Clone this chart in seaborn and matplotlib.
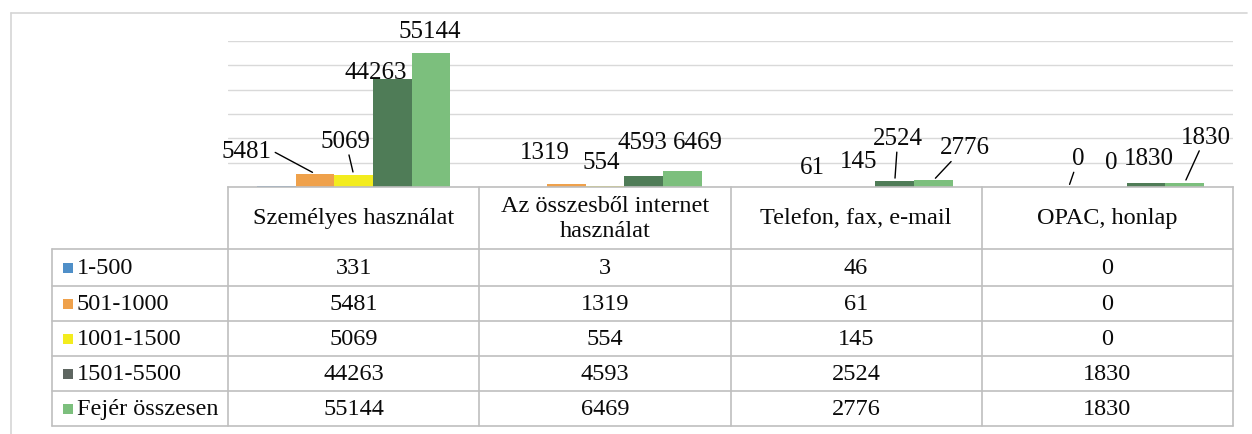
import matplotlib
matplotlib.use('Agg')
import matplotlib.pyplot as plt
from matplotlib.lines import Line2D
from matplotlib.patches import Rectangle
import seaborn as sns
import pandas as pd

# Data
categories = ['Személyes használat', 'Az összesből internet\nhasználat',
              'Telefon, fax, e-mail', 'OPAC, honlap']
series = ['1-500', '501-1000', '1001-1500', '1501-5500', 'Fejér összesen']
v_1_500 = [331, 3, 46, 0]
v_501_1000 = [5481, 1319, 61, 0]
v_1001_1500 = [5069, 554, 145, 0]
v_1501_5500 = [44263, 4593, 2524, 1830]
v_fejer = [55144, 6469, 2776, 1830]
values = [v_1_500, v_501_1000, v_1001_1500, v_1501_5500, v_fejer]

# Styles
bar_colors = ['#4F8FC8', '#EFA14B', '#F3EC1E', '#4F7C57', '#7CBF7D']
key_colors = ['#4F8FC8', '#EFA14B', '#F3EC1E', '#5E6661', '#7CBF7D']

# label placement per series (pixels from bar top: dx, dy, leader line); series 0 has no labels
label_offsets = {
    1: [(-68, 23, True), (-21, 32, False), (-5, 20, False), (10, 29, True)],
    2: [(-8, 34, True), (-4, 24, False), (2, 26, False), (4, 25, False)],
    3: [(-17, 7, False), (-1, 34, False), (3, 43, True), (3, 25, False)],
    4: [(-1, 22, False), (16, 29, False), (31, 33, True), (21, 46, True)],
}

rows = []
for s, vals in zip(series, values):
    for c, v in zip(categories, vals):
        rows.append({'category': c, 'series': s, 'value': v})
df = pd.DataFrame(rows)

sns.set_style('white')
plt.rcParams['font.family'] = ['Liberation Serif', 'DejaVu Serif']

W, H = 1252, 435
fig = plt.figure(figsize=(W / 100, H / 100), dpi=100)
ax_left, ax_right = 228 / W, 1233 / W
ax_bottom, ax_top = 1 - 188 / H, 1 - 42 / H
ax = fig.add_axes([ax_left, ax_bottom, ax_right - ax_left, ax_top - ax_bottom])

sns.barplot(data=df, x='category', y='value', hue='series', order=categories,
            hue_order=series, palette=bar_colors, width=0.77, saturation=1,
            errorbar=None, legend=False, linewidth=0, ax=ax)

ax.set_xlim(-0.5, len(categories) - 0.5)
ax.set_ylim(0, 60000)
ax.set_yticks(range(0, 60001, 10000))
ax.yaxis.grid(True, color='#D9D9D9', lw=1)
ax.xaxis.grid(False)
ax.set_axisbelow(True)
ax.tick_params(left=False, bottom=False, labelleft=False, labelbottom=False)
ax.set_xlabel('')
ax.set_ylabel('')
for sp in ['top', 'left', 'right']:
    ax.spines[sp].set_visible(False)
ax.spines['bottom'].set_color('#BFBFBF')
ax.spines['bottom'].set_linewidth(1.2)

# data labels
for si, cont in enumerate(ax.containers):
    if si not in label_offsets:
        continue
    for ci, patch in enumerate(cont.patches):
        dx, dy, leader = label_offsets[si][ci]
        x = patch.get_x() + patch.get_width() / 2
        y = patch.get_height()
        arrow = None
        if leader:
            arrow = dict(arrowstyle='-', color='black', lw=1, shrinkA=0, shrinkB=2)
            if dx < -30:
                arrow['relpos'] = (1, 0.5)
        ax.annotate(str(values[si][ci]), xy=(x, y), xytext=(dx, dy),
                    textcoords='offset pixels', ha='center', va='center',
                    fontsize=18, color='#0A0A0A', arrowprops=arrow,
                    annotation_clip=False)


def fy(py):
    return 1 - py / H


def fx(px):
    return px / W


line_kw = dict(color='#BFBFBF', lw=1.2, transform=fig.transFigure)

# table grid
n = len(categories)
col_edges = [ax_left + (ax_right - ax_left) * k / n for k in range(n + 1)]
row_edges = [250, 287, 322, 357, 392, 427]
header_top = 188
label_left = fx(52)

for xe in col_edges:
    fig.add_artist(Line2D([xe, xe], [fy(header_top), fy(row_edges[-1])], **line_kw))
fig.add_artist(Line2D([label_left, label_left], [fy(row_edges[0]), fy(row_edges[-1])], **line_kw))
for ye in row_edges:
    fig.add_artist(Line2D([label_left, col_edges[-1]], [fy(ye), fy(ye)], **line_kw))

# outer chart frame
frame_kw = dict(color='#D5D5D5', lw=1.2, transform=fig.transFigure)
fig.add_artist(Line2D([fx(11), fx(1247)], [fy(14), fy(14)], **frame_kw))
fig.add_artist(Line2D([fx(11), fx(11)], [fy(14), 0], **frame_kw))

# header texts
for k, cat in enumerate(categories):
    xc = (col_edges[k] + col_edges[k + 1]) / 2
    fig.text(xc, fy((header_top + row_edges[0]) / 2), cat, ha='center', va='center',
             fontsize=17.5, color='#0A0A0A', linespacing=1.3)

# rows: legend key, series name, values
for r, s in enumerate(series):
    yc = fy((row_edges[r] + row_edges[r + 1]) / 2)
    fig.add_artist(Rectangle((fx(63), yc - 5 / H), 10 / W, 10 / H,
                             facecolor=key_colors[r], edgecolor='none',
                             transform=fig.transFigure))
    fig.text(fx(77), yc, s, ha='left', va='center', fontsize=17.5, color='#0A0A0A')
    for k in range(n):
        xc = (col_edges[k] + col_edges[k + 1]) / 2
        fig.text(xc, yc, str(values[r][k]), ha='center', va='center',
                 fontsize=17.5, color='#0A0A0A')

fig.savefig('out.png', dpi=100)
